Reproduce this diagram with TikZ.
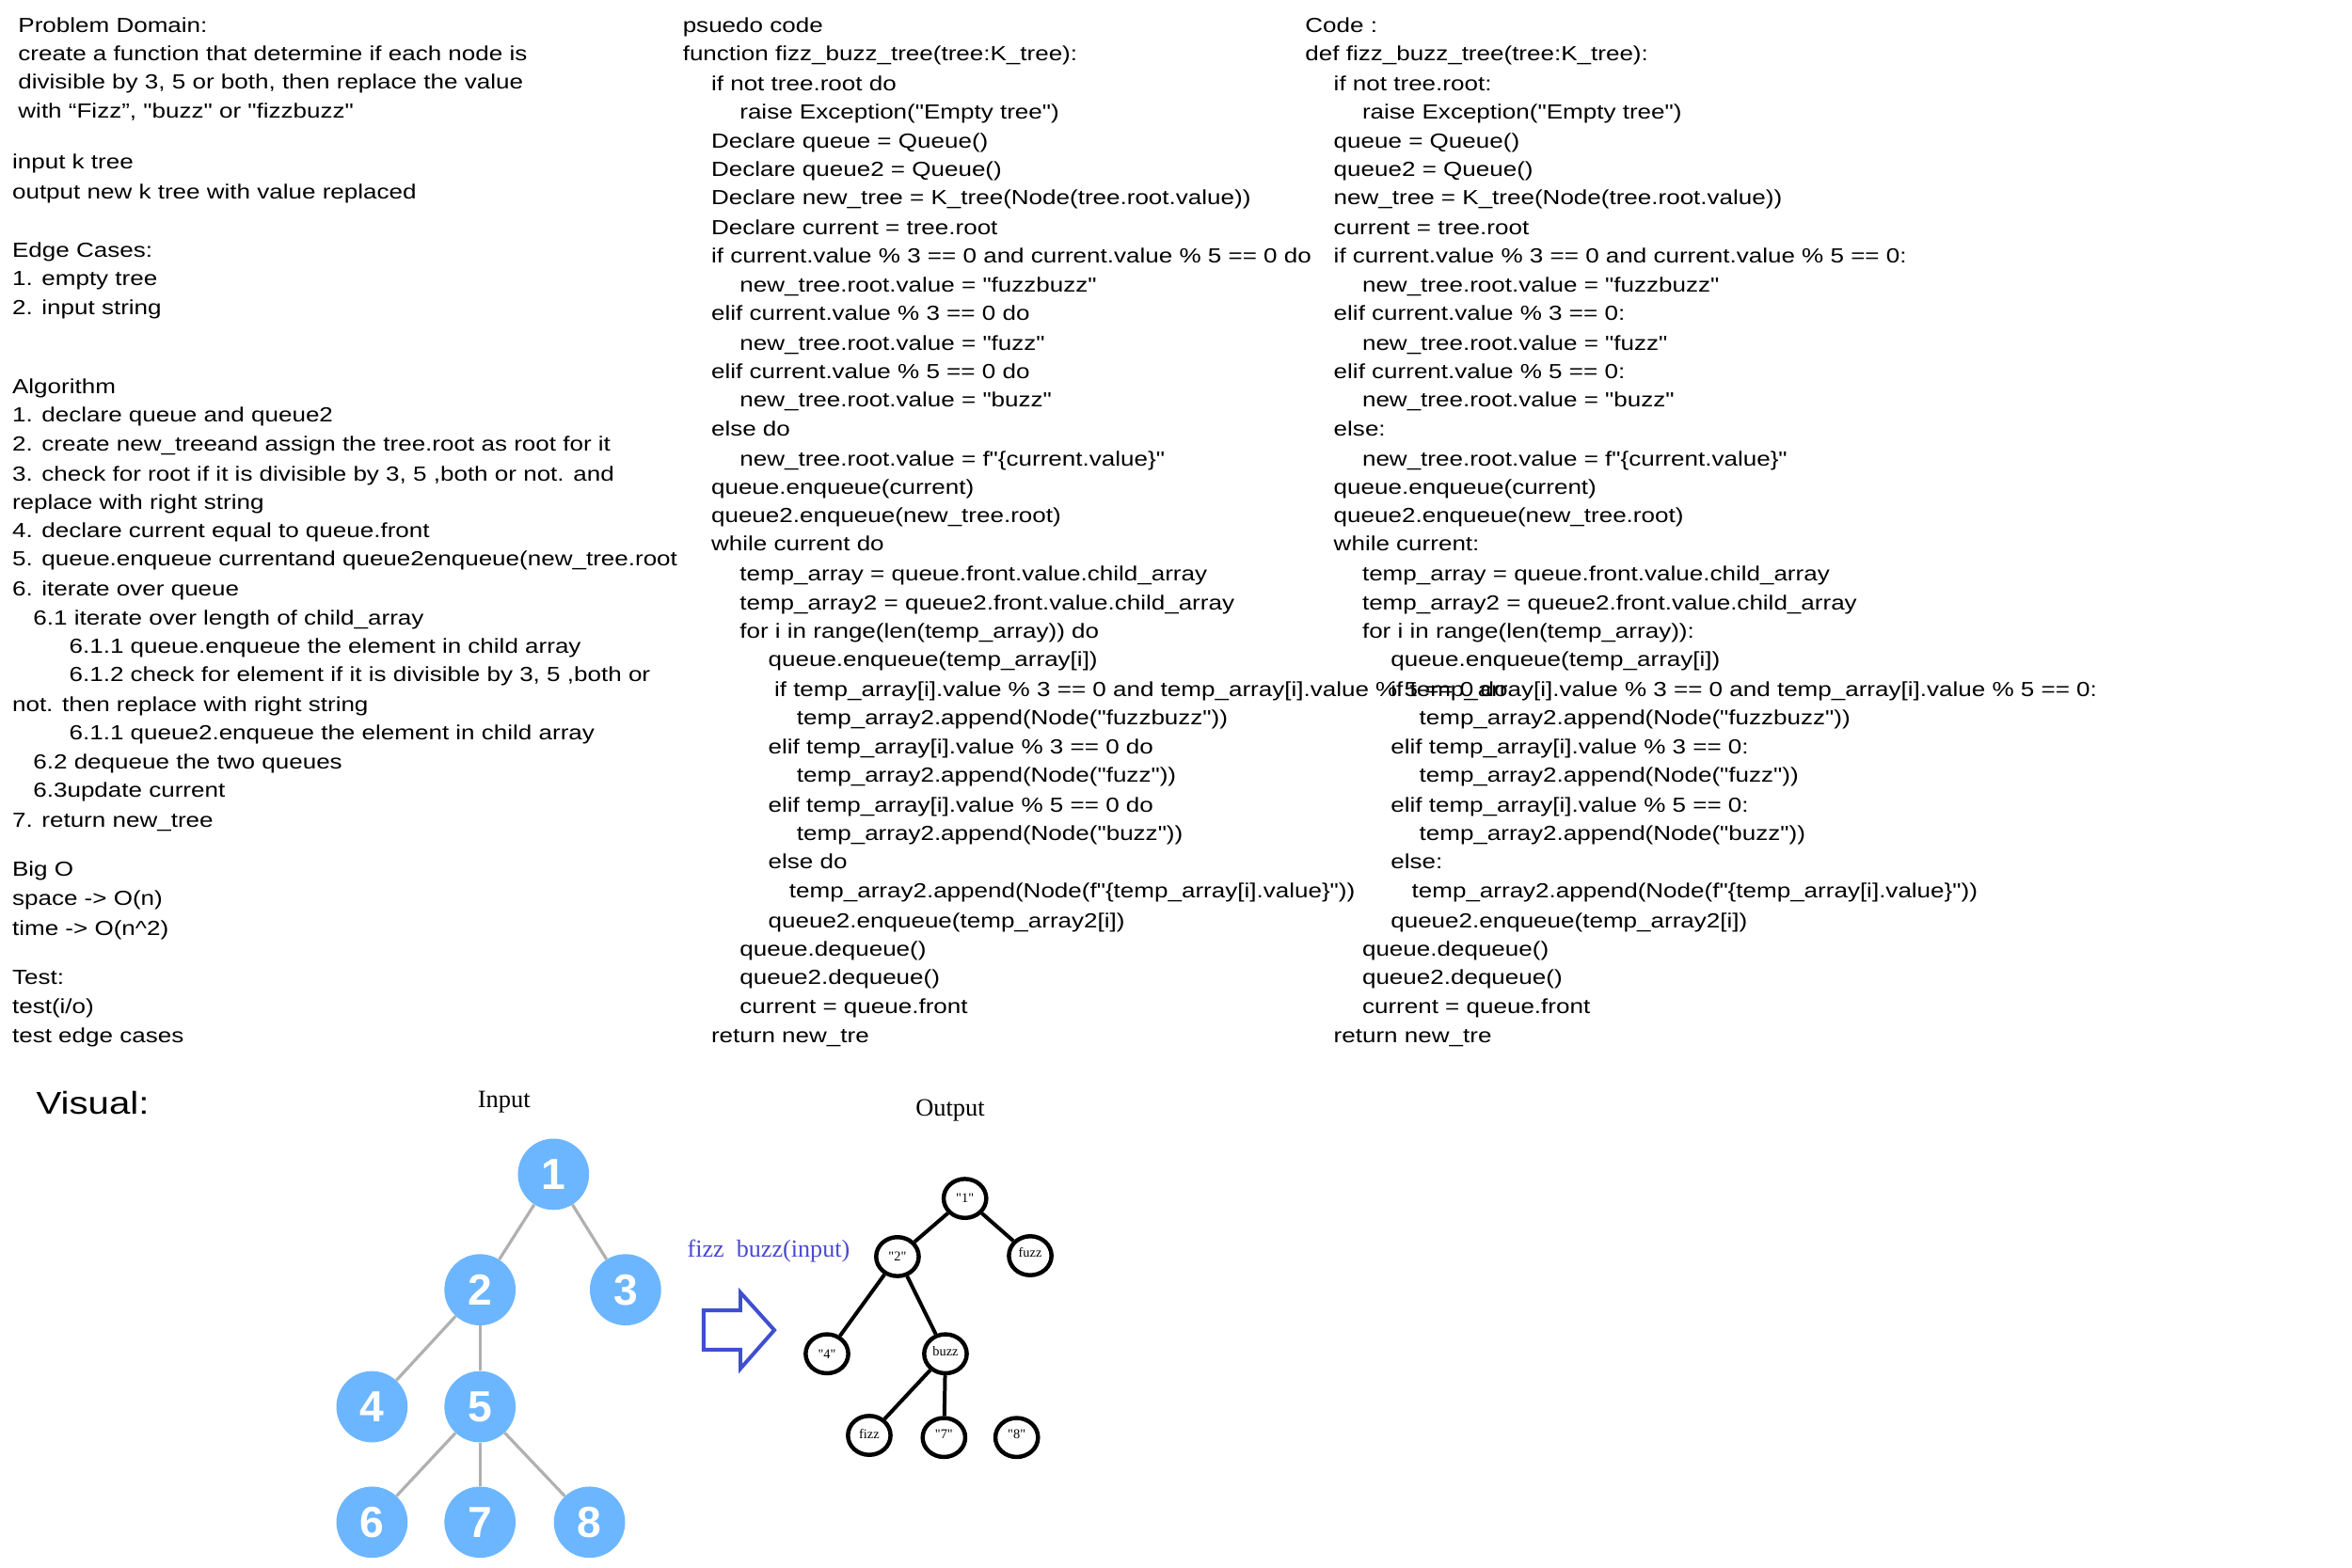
\documentclass[tikz,border=0pt]{standalone}
\usepackage{fontspec}
\usetikzlibrary{shapes.geometric}
\newfontfamily\handfont{Liberation Sans}[FakeStretch=1.2]
\newfontfamily\seriffont{Liberation Serif}
\newfontfamily\digitfont{Liberation Sans}
\definecolor{nodeblue}{HTML}{6CB6FF}
\definecolor{edgegray}{HTML}{B0B0B0}
\definecolor{arrowblue}{HTML}{3F4FD0}
\definecolor{labelblue}{HTML}{4A4AD2}
\newcommand\tl[4]{\node[hand] (#1) at (#2,#3+5.5) {#4};}
\begin{document}
\begin{tikzpicture}[x=1pt,y=-1pt,
  hand/.style={anchor=base west,inner sep=0pt,font=\handfont\fontsize{13.6}{16}\selectfont},
  inode/.style={circle,fill=nodeblue,minimum size=47.5pt,inner sep=0pt,text=white,font=\digitfont\bfseries\fontsize{29}{29}\selectfont},
  iedge/.style={draw=edgegray,line width=2pt},
  onode/.style={ellipse,draw=black,fill=white,line width=2.8pt,minimum width=28.4pt,minimum height=26pt,inner sep=0pt,font=\seriffont\fontsize{9}{9}\selectfont},
  oedge/.style={draw=black,line width=2.5pt},
  title/.style={anchor=base,inner sep=0pt,font=\seriffont\fontsize{16.6}{18}\selectfont}]
\useasboundingbox (0,0) rectangle (1568,1045);
\fill[white] (0,0) rectangle (1568,1045);
% ---------- left column ----------
\tl{l1}{12}{16}{Problem Domain:}
\tl{l2}{12}{35}{create a function that determine if each node is}
\tl{l3}{12}{54}{divisible by 3, 5 or both, then replace the value}
\tl{l4}{12}{73}{with “Fizz”, "buzz" or "fizzbuzz"}
\tl{l5}{8}{107}{input k tree}
\tl{l6}{8}{127}{output new k tree with value replaced}
\tl{l7}{8}{166}{Edge Cases:}
\tl{l8}{8}{185}{1. empty tree}
\tl{l9}{8}{204}{2. input string}
\tl{l10}{8}{257}{Algorithm}
\tl{l11}{8}{276}{1. declare queue and queue2}
\tl{l12}{8}{295}{2. create new\_treeand assign the tree.root as root for it}
\tl{l13}{8}{315}{3. check for root if it is divisible by 3, 5 ,both or not. and}
\tl{l14}{8}{334}{replace with right string}
\tl{l15}{8}{353}{4. declare current equal to queue.front}
\tl{l16}{8}{372}{5. queue.enqueue currentand queue2enqueue(new\_tree.root}
\tl{l17}{8}{392}{6. iterate over queue}
\tl{l18}{22}{411}{6.1 iterate over length of child\_array}
\tl{l19}{46}{430}{6.1.1 queue.enqueue the element in child array}
\tl{l20}{46}{449}{6.1.2 check for element if it is divisible by 3, 5 ,both or}
\tl{l21}{8}{469}{not. then replace with right string}
\tl{l22}{46}{488}{6.1.1 queue2.enqueue the element in child array}
\tl{l23}{22}{507}{6.2 dequeue the two queues}
\tl{l24}{22}{526}{6.3update current}
\tl{l25}{8}{546}{7. return new\_tree}
\tl{l26}{8}{579}{Big O}
\tl{l27}{8}{598}{space -> O(n)}
\tl{l28}{8}{618}{time -> O(n\^{}2)}
\tl{l29}{8}{651}{Test:}
\tl{l30}{8}{670}{test(i/o)}
\tl{l31}{8}{690}{test edge cases}
% ---------- middle column ----------
\tl{m1}{455}{16}{psuedo code}
\tl{m2}{455}{35}{function fizz\_buzz\_tree(tree:K\_tree):}
\tl{m3}{474}{55}{if not tree.root do}
\tl{m4}{493}{74}{raise Exception("Empty tree")}
\tl{m5}{474}{93}{Declare queue = Queue()}
\tl{m6}{474}{112}{Declare queue2 = Queue()}
\tl{m7}{474}{131}{Declare new\_tree = K\_tree(Node(tree.root.value))}
\tl{m8}{474}{151}{Declare current = tree.root}
\tl{m9}{474}{170}{if current.value \% 3 == 0 and current.value \% 5 == 0 do}
\tl{m10}{493}{189}{new\_tree.root.value = "fuzzbuzz"}
\tl{m11}{474}{208}{elif current.value \% 3 == 0 do}
\tl{m12}{493}{228}{new\_tree.root.value = "fuzz"}
\tl{m13}{474}{247}{elif current.value \% 5 == 0 do}
\tl{m14}{493}{266}{new\_tree.root.value = "buzz"}
\tl{m15}{474}{285}{else do}
\tl{m16}{493}{305}{new\_tree.root.value = f"\{current.value\}"}
\tl{m17}{474}{324}{queue.enqueue(current)}
\tl{m18}{474}{343}{queue2.enqueue(new\_tree.root)}
\tl{m19}{474}{362}{while current do}
\tl{m20}{493}{382}{temp\_array = queue.front.value.child\_array}
\tl{m21}{493}{401}{temp\_array2 = queue2.front.value.child\_array}
\tl{m22}{493}{420}{for i in range(len(temp\_array)) do}
\tl{m23}{512}{439}{queue.enqueue(temp\_array[i])}
\tl{m24}{516}{459}{if temp\_array[i].value \% 3 == 0 and temp\_array[i].value \% 5 == 0 do}
\tl{m25}{531}{478}{temp\_array2.append(Node("fuzzbuzz"))}
\tl{m26}{512}{497}{elif temp\_array[i].value \% 3 == 0 do}
\tl{m27}{531}{516}{temp\_array2.append(Node("fuzz"))}
\tl{m28}{512}{536}{elif temp\_array[i].value \% 5 == 0 do}
\tl{m29}{531}{555}{temp\_array2.append(Node("buzz"))}
\tl{m30}{512}{574}{else do}
\tl{m31}{526}{593}{temp\_array2.append(Node(f"\{temp\_array[i].value\}"))}
\tl{m32}{512}{613}{queue2.enqueue(temp\_array2[i])}
\tl{m33}{493}{632}{queue.dequeue()}
\tl{m34}{493}{651}{queue2.dequeue()}
\tl{m35}{493}{670}{current = queue.front}
\tl{m36}{474}{690}{return new\_tre}
% ---------- right column ----------
\tl{c1}{870}{16}{Code :}
\tl{c2}{870}{35}{def fizz\_buzz\_tree(tree:K\_tree):}
\tl{c3}{889}{55}{if not tree.root:}
\tl{c4}{908}{74}{raise Exception("Empty tree")}
\tl{c5}{889}{93}{queue = Queue()}
\tl{c6}{889}{112}{queue2 = Queue()}
\tl{c7}{889}{131}{new\_tree = K\_tree(Node(tree.root.value))}
\tl{c8}{889}{151}{current = tree.root}
\tl{c9}{889}{170}{if current.value \% 3 == 0 and current.value \% 5 == 0:}
\tl{c10}{908}{189}{new\_tree.root.value = "fuzzbuzz"}
\tl{c11}{889}{208}{elif current.value \% 3 == 0:}
\tl{c12}{908}{228}{new\_tree.root.value = "fuzz"}
\tl{c13}{889}{247}{elif current.value \% 5 == 0:}
\tl{c14}{908}{266}{new\_tree.root.value = "buzz"}
\tl{c15}{889}{285}{else:}
\tl{c16}{908}{305}{new\_tree.root.value = f"\{current.value\}"}
\tl{c17}{889}{324}{queue.enqueue(current)}
\tl{c18}{889}{343}{queue2.enqueue(new\_tree.root)}
\tl{c19}{889}{362}{while current:}
\tl{c20}{908}{382}{temp\_array = queue.front.value.child\_array}
\tl{c21}{908}{401}{temp\_array2 = queue2.front.value.child\_array}
\tl{c22}{908}{420}{for i in range(len(temp\_array)):}
\tl{c23}{927}{439}{queue.enqueue(temp\_array[i])}
\tl{c24}{927}{459}{if temp\_array[i].value \% 3 == 0 and temp\_array[i].value \% 5 == 0:}
\tl{c25}{946}{478}{temp\_array2.append(Node("fuzzbuzz"))}
\tl{c26}{927}{497}{elif temp\_array[i].value \% 3 == 0:}
\tl{c27}{946}{516}{temp\_array2.append(Node("fuzz"))}
\tl{c28}{927}{536}{elif temp\_array[i].value \% 5 == 0:}
\tl{c29}{946}{555}{temp\_array2.append(Node("buzz"))}
\tl{c30}{927}{574}{else:}
\tl{c31}{941}{593}{temp\_array2.append(Node(f"\{temp\_array[i].value\}"))}
\tl{c32}{927}{613}{queue2.enqueue(temp\_array2[i])}
\tl{c33}{908}{632}{queue.dequeue()}
\tl{c34}{908}{651}{queue2.dequeue()}
\tl{c35}{908}{670}{current = queue.front}
\tl{c36}{889}{690}{return new\_tre}
% ---------- visual ----------
\node[anchor=base west,inner sep=0pt,font=\handfont\fontsize{21}{24}\selectfont] (vis) at (24,743) {Visual:};
\node[title] (intitle) at (336,738.6) {Input};
\node[title] (outtitle) at (633.5,744) {Output};
\node[anchor=base west,inner sep=0pt,text=labelblue,font=\seriffont\fontsize{16.4}{18}\selectfont] (fblabel) at (458,838) {fizz~ buzz(input)};
% input tree
\node[inode] (i1) at (369,783) {1};
\node[inode] (i2) at (320,860) {2};
\node[inode] (i3) at (417,860) {3};
\node[inode] (i4) at (248,938) {4};
\node[inode] (i5) at (320,938) {5};
\node[inode] (i6) at (248,1015) {6};
\node[inode] (i7) at (320,1015) {7};
\node[inode] (i8) at (393,1015) {8};
\draw[iedge] (i1) -- (i2);
\draw[iedge] (i1) -- (i3);
\draw[iedge] (i2) -- (i4);
\draw[iedge] (i2) -- (i5);
\draw[iedge] (i5) -- (i6);
\draw[iedge] (i5) -- (i7);
\draw[iedge] (i5) -- (i8);
% arrow
\draw[arrowblue,line width=2.5pt,line join=miter]
  (469.1,873.7) -- (493.6,873.7) -- (493.6,861.8) -- (516.2,886.9)
  -- (493.6,912.6) -- (493.6,900) -- (469.1,900) -- cycle;
% output tree
\node[onode] (o1) at (643.3,799.1) {"1"};
\node[onode] (o2) at (598.3,837.9) {"2"};
\node[onode] (o3) at (686.8,837.3) {\raisebox{4pt}{fuzz}};
\node[onode] (o4) at (551.3,902.7) {"4"};
\node[onode] (o5) at (630.3,902.7) {\raisebox{3pt}{buzz}};
\node[onode] (o6) at (579.5,957.1) {\raisebox{2pt}{fizz}};
\node[onode] (o7) at (629.3,958.5) {\raisebox{4pt}{"7"}};
\node[onode] (o8) at (677.8,958.5) {\raisebox{4pt}{"8"}};
\draw[oedge] (o1) -- (o2);
\draw[oedge] (o1) -- (o3);
\draw[oedge] (o2) -- (o4);
\draw[oedge] (o2) -- (o5);
\draw[oedge] (o5) -- (o6);
\draw[oedge] (o5) -- (o7);
\end{tikzpicture}
\end{document}
